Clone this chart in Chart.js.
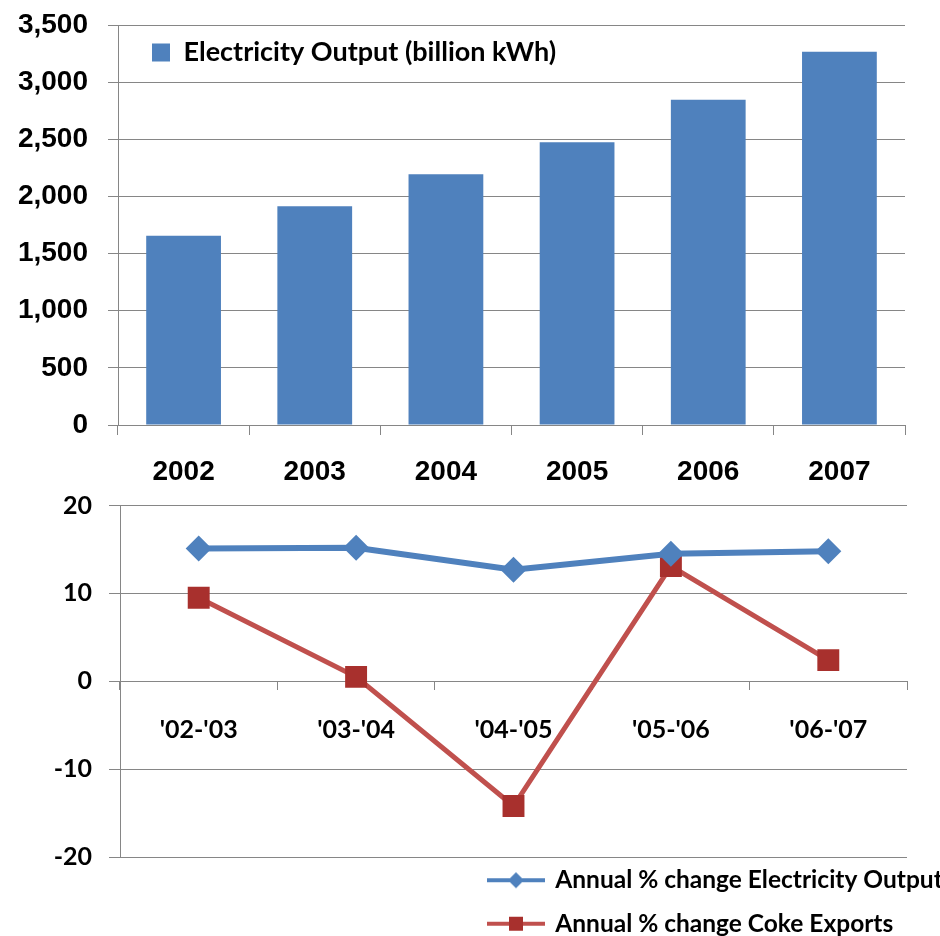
<!DOCTYPE html>
<html>
<head>
<meta charset="utf-8">
<script src="https://cdn.jsdelivr.net/npm/chart.js@4"></script>
<style>
  body { margin: 0; background: #fff; overflow: hidden; }
  #graficoProducao { position: absolute; left: 0; top: 0; }
  #graficoVariacao { position: absolute; left: 0; top: 490px; }
</style>
</head>
<body>
<canvas id="graficoProducao" width="940" height="490"></canvas>
<canvas id="graficoVariacao" width="940" height="446"></canvas>
<script>
// dados
const anos = ['2002', '2003', '2004', '2005', '2006', '2007'];
const producao = [1655, 1915, 2195, 2475, 2845, 3265];
const ticksProducao = [0, 500, 1000, 1500, 2000, 2500, 3000, 3500];

const periodos = ["'02-'03", "'03-'04", "'04-'05", "'05-'06", "'06-'07"];
const variacaoEletricidade = [15.1, 15.2, 12.7, 14.5, 14.8];
const variacaoCoque = [9.5, 0.5, -14.2, 13.1, 2.4];

const azul = '#4F81BD';
const vermelho = '#C0504D';
const vermelhoEscuro = '#A8302D';
const cinza = '#868686';

Chart.defaults.color = '#000';

// move a legenda para o lugar que ela ocupa no original
const moverLegenda = {
  id: 'moverLegenda',
  afterLayout(chart, args, opts) {
    const l = chart.legend;
    const w = l.width, h = l.height;
    l.left = opts.left; l.right = opts.left + w;
    l.top = opts.top; l.bottom = opts.top + h;
  }
};

// tamanho fixo dos eixos, sem o espaco extra dos rotulos
function fixarEixo(tamanho) {
  return (eixo) => {
    if (eixo.isHorizontal()) eixo.height = tamanho;
    else eixo.width = tamanho;
    eixo.paddingTop = 0; eixo.paddingBottom = 0;
    eixo.paddingLeft = 0; eixo.paddingRight = 0;
  };
}

function iconeLegenda(corLinha, corMarcador, forma) {
  const c = document.createElement('canvas');
  c.width = 58; c.height = 26;
  const ctx = c.getContext('2d');
  ctx.strokeStyle = corLinha;
  ctx.lineWidth = 4;
  ctx.beginPath(); ctx.moveTo(0, 13); ctx.lineTo(58, 13); ctx.stroke();
  ctx.fillStyle = corMarcador;
  if (forma === 'losango') {
    ctx.beginPath(); ctx.moveTo(29, 5); ctx.lineTo(37, 13); ctx.lineTo(29, 21); ctx.lineTo(21, 13); ctx.fill();
  } else {
    ctx.fillRect(22, 6, 14, 14);
  }
  return c;
}
const icones = [iconeLegenda(azul, azul, 'losango'), iconeLegenda(vermelho, vermelhoEscuro, 'quadrado')];

const fonteArial = { family: 'Liberation Sans, Arial, sans-serif', weight: 'bold', size: 28 };
const fonteCalibri = { family: 'Lato, Open Sans, sans-serif', weight: 'bold', size: 25 };

new Chart(document.querySelector('#graficoProducao'), {
  type: 'bar',
  data: {
    labels: anos,
    datasets: [{
      label: 'Electricity Output (billion kWh)',
      data: producao,
      backgroundColor: azul,
      barPercentage: 0.57,
      categoryPercentage: 1
    }]
  },
  options: {
    responsive: false,
    animation: false,
    layout: { padding: { left: 14, right: 35, top: 25, bottom: 0 } },
    scales: {
      x: {
        afterFit: fixarEixo(65),
        grid: { drawOnChartArea: false, tickLength: 10, color: cinza, offset: true },
        border: { color: cinza },
        ticks: { font: fonteArial, padding: 20 }
      },
      y: {
        min: 0, max: 3500,
        afterFit: fixarEixo(104),
        afterBuildTicks: (eixo) => { eixo.ticks = ticksProducao.map(v => ({ value: v })); },
        grid: { color: cinza, tickLength: 10 },
        border: { color: cinza },
        ticks: {
          font: fonteArial, padding: 20,
          callback: (v) => v.toLocaleString('en-US')
        }
      }
    },
    plugins: {
      tooltip: { enabled: false },
      legend: {
        position: 'chartArea',
        align: 'start',
        labels: {
          boxWidth: 18, boxHeight: 18, padding: 10,
          font: { family: 'Lato, sans-serif', weight: 'bold', size: 27 }
        }
      },
      moverLegenda: { left: 142, top: 29 }
    }
  },
  plugins: [moverLegenda]
});

new Chart(document.querySelector('#graficoVariacao'), {
  type: 'line',
  data: {
    labels: periodos,
    datasets: [{
      label: 'Annual % change Electricity Output',
      data: variacaoEletricidade,
      borderColor: azul,
      backgroundColor: azul,
      borderWidth: 6,
      pointStyle: 'rectRot',
      pointRadius: 13,
      pointBorderWidth: 0,
      tension: 0
    }, {
      label: 'Annual % change Coke Exports',
      data: variacaoCoque,
      borderColor: vermelho,
      backgroundColor: vermelhoEscuro,
      borderWidth: 5,
      pointStyle: 'rect',
      pointRadius: 15.5,
      pointBorderWidth: 0,
      tension: 0
    }]
  },
  options: {
    responsive: false,
    animation: false,
    layout: { padding: { left: 54, right: 33, top: 15, bottom: 79 } },
    scales: {
      x: {
        position: { y: 0 },
        offset: true,
        afterFit: fixarEixo(0),
        grid: { drawOnChartArea: false, offset: true, tickLength: 8, color: cinza },
        border: { color: cinza },
        ticks: { font: fonteCalibri, padding: 26 }
      },
      y: {
        min: -20, max: 20,
        afterFit: fixarEixo(66),
        ticks: { stepSize: 10, font: fonteCalibri, padding: 17 },
        grid: { color: cinza, tickLength: 11 },
        border: { color: cinza }
      }
    },
    plugins: {
      tooltip: { enabled: false },
      legend: {
        position: 'chartArea',
        align: 'start',
        labels: {
          usePointStyle: true,
          pointStyleWidth: 54,
          padding: 19,
          font: { family: 'Lato, sans-serif', weight: 'bold', size: 24.5 },
          generateLabels(chart) {
            const itens = Chart.defaults.plugins.legend.labels.generateLabels(chart);
            itens.forEach((item, i) => { item.pointStyle = icones[i]; });
            return itens;
          }
        }
      },
      moverLegenda: { left: 470, top: 359 }
    }
  },
  plugins: [moverLegenda]
});
</script>
</body>
</html>
